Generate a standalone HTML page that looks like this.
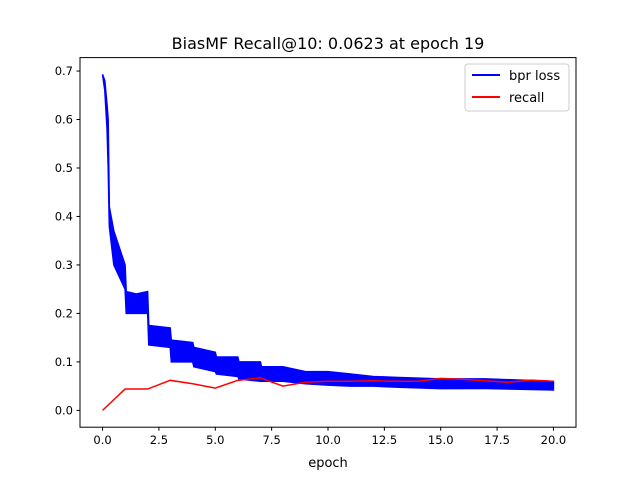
<!DOCTYPE html>
<html><head><meta charset="utf-8"><style>
body{margin:0;background:#fff;}
svg text{font-family:"DejaVu Sans","Liberation Sans",sans-serif;}
</style></head><body>
<svg id="chart" width="640" height="480" xmlns="http://www.w3.org/2000/svg">
<rect width="640" height="480" fill="#fff"/>
<text x="328" y="49" font-size="16" text-anchor="middle">BiasMF Recall@10: 0.0623 at epoch 19</text>
<g id="plot"></g>
<rect x="80" y="57.6" width="496" height="369.6" fill="none" stroke="#000" stroke-width="1"/>
<text x="328" y="467" font-size="13" text-anchor="middle">epoch</text>
<g>
<rect x="465" y="64" width="104" height="47" fill="#fff" stroke="#ccc" rx="3"/>
<line x1="472" y1="75" x2="500" y2="75" stroke="#0000ff" stroke-width="2"/>
<text x="509" y="80" font-size="13">bpr loss</text>
<line x1="472" y1="97" x2="500" y2="97" stroke="#ff0000" stroke-width="2"/>
<text x="509" y="102" font-size="13">recall</text>
</g>
</svg>
<script>
const xTicks=[0,2.5,5,7.5,10,12.5,15,17.5,20];
const xTickLabels=["0.0","2.5","5.0","7.5","10.0","12.5","15.0","17.5","20.0"];
const yTicks=[0,0.1,0.2,0.3,0.4,0.5,0.6,0.7];
const yTickLabels=["0.0","0.1","0.2","0.3","0.4","0.5","0.6","0.7"];
const recallEpochs=[0,1,2,3,4,5,6,7,8,9,10,11,12,13,14,15,16,17,18,19,20];
const recallValues=[0,0.044,0.044,0.062,0.055,0.046,0.062,0.067,0.050,0.058,0.060,0.060,0.061,0.060,0.060,0.066,0.064,0.061,0.058,0.0623,0.060];
const lossX=[0,0.1,0.2,0.25,0.3,0.5,1,1.05,1.5,2,2.05,3,3.05,4,4.05,5,5.05,6,6.05,7,7.05,8,9,10,11,12,13,15,17,20];
const lossHi=[0.693,0.68,0.63,0.60,0.42,0.37,0.30,0.245,0.24,0.245,0.175,0.17,0.145,0.14,0.13,0.12,0.11,0.11,0.10,0.10,0.09,0.09,0.08,0.08,0.075,0.07,0.068,0.065,0.065,0.06];
const lossLo=[0.693,0.66,0.58,0.50,0.38,0.30,0.25,0.20,0.20,0.20,0.135,0.13,0.10,0.10,0.09,0.08,0.075,0.07,0.065,0.06,0.06,0.06,0.055,0.052,0.05,0.05,0.048,0.045,0.045,0.042];
const NS="http://www.w3.org/2000/svg";
const X0=80,X1=576,Y0=427.2,Y1=57.6,xmin=-1,xmax=21,ymin=-0.0347,ymax=0.7277;
const sx=v=>X0+(v-xmin)/(xmax-xmin)*(X1-X0);
const sy=v=>Y0-(v-ymin)/(ymax-ymin)*(Y0-Y1);
const g=document.getElementById('plot');
function mk(t,a){const e=document.createElementNS(NS,t);for(const k in a)e.setAttribute(k,a[k]);g.appendChild(e);return e;}
xTicks.forEach((t,i)=>{
 const l=mk('line',{x1:sx(t),x2:sx(t),y1:Y0,y2:Y0+3.5,stroke:'#000'});
 
 
 const tx=mk('text',{x:sx(t),y:Y0+17,'font-size':'11.5','text-anchor':'middle'});tx.textContent=xTickLabels[i];
 
 
});
yTicks.forEach((t,i)=>{
 const l=mk('line',{x1:X0-3.5,x2:X0,y1:sy(t),y2:sy(t),stroke:'#000'});
 
 
 const tx=mk('text',{x:X0-7,y:sy(t)+4,'font-size':'11.5','text-anchor':'end'});tx.textContent=yTickLabels[i];
 
 
});
let pts=lossX.map((x,i)=>sx(x)+','+sy(lossHi[i]));
for(let i=lossX.length-1;i>=0;i--)pts.push(sx(lossX[i])+','+sy(lossLo[i]));
const band=mk('polygon',{points:pts.join(' '),fill:'#0000ff',stroke:'#0000ff','stroke-width':'1.5'});


const rl=mk('polyline',{points:recallEpochs.map((x,i)=>sx(x)+','+sy(recallValues[i])).join(' '),fill:'none',stroke:'#ff0000','stroke-width':'1.5'});


</script>
</body></html>
